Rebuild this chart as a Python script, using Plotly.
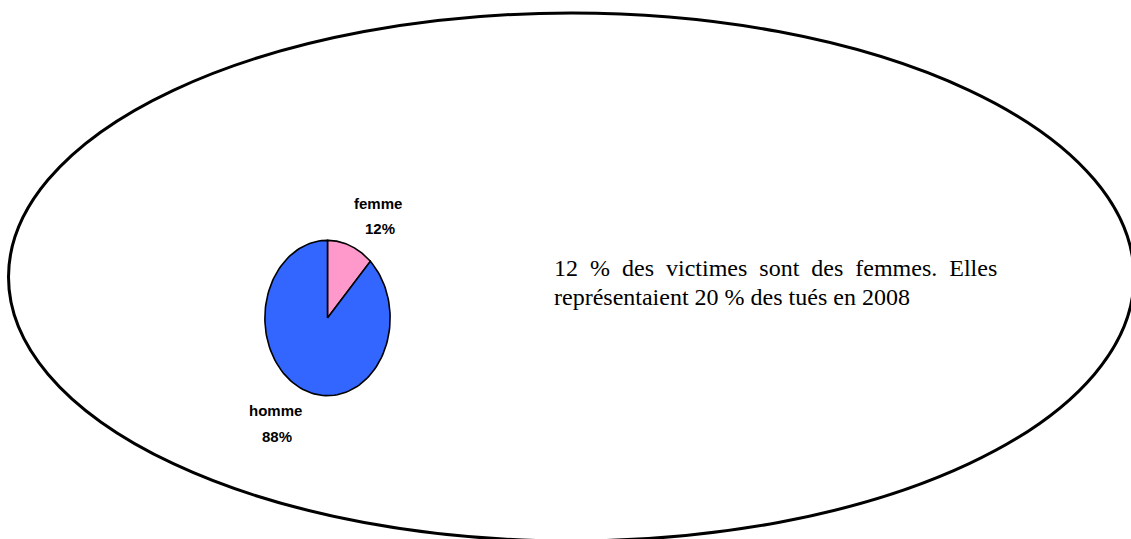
import numpy as np
import plotly.graph_objects as go

labels = ["femme", "homme"]
values = [12, 88]
colors = ["#FF99CC", "#3366FF"]
note_lines = ["12 % des victimes sont des femmes. Elles",
              "représentaient 20 % des tués en 2008"]

W, H = 1131, 539

fig = go.Figure()

# pie drawn as filled wedges on a unit circle, stretched by the axis domain
total = sum(values)
start = 0.0
for lab, val, col in zip(labels, values, colors):
    end = start + val / total * 2 * np.pi
    t = np.linspace(start, end, 120)
    xs = np.concatenate([[0], np.sin(t), [0]])
    ys = np.concatenate([[0], np.cos(t), [0]])
    fig.add_trace(go.Scatter(
        x=xs, y=ys, mode="lines", fill="toself",
        fillcolor=col, line=dict(color="black", width=1.6),
        name=lab, hoverinfo="skip", showlegend=False
    ))
    start = end

fig.update_xaxes(range=[-1.03, 1.03], domain=[263 / W, 392 / W], visible=False)
fig.update_yaxes(range=[-1.03, 1.03], domain=[(H - 398) / H, (H - 238) / H], visible=False)

# big surrounding ellipse
fig.add_shape(type="circle", xref="paper", yref="paper",
              x0=8.5 / W, x1=1134 / W, y0=(H - 541) / H, y1=(H - 13) / H,
              line=dict(color="black", width=3), layer="below")

lab_font = dict(family="Liberation Sans, Arial", size=15, color="black")
pct = [f"{round(v / total * 100)}%" for v in values]
label_pos = [((378, 204), (380, 228)), ((275, 410), (277, 436))]
for lab, p, (pos_lab, pos_pct) in zip(labels, pct, label_pos):
    fig.add_annotation(x=pos_lab[0] / W, y=1 - pos_lab[1] / H, xref="paper", yref="paper",
                       text=f"<b>{lab}</b>", showarrow=False, font=lab_font,
                       xanchor="center", yanchor="middle")
    fig.add_annotation(x=pos_pct[0] / W, y=1 - pos_pct[1] / H, xref="paper", yref="paper",
                       text=f"<b>{p}</b>", showarrow=False, font=lab_font,
                       xanchor="center", yanchor="middle")

txt_font = dict(family="Liberation Serif, Times New Roman", size=24, color="black")
for i, line in enumerate(note_lines):
    # first line is justified in the original, so its spaces are wider
    shown = line.replace(" ", "\u2002") if i == 0 else line
    fig.add_annotation(x=552 / W, y=1 - (268 + i * 29) / H, xref="paper", yref="paper",
                       text=shown, showarrow=False, xanchor="left", yanchor="middle",
                       font=txt_font)

fig.update_layout(
    width=W, height=H,
    margin=dict(l=0, r=0, t=0, b=0),
    paper_bgcolor="white", plot_bgcolor="rgba(0,0,0,0)",
)

fig.write_html("out.html", config={"displayModeBar": False},
               post_script="document.body.style.margin='0px';")
